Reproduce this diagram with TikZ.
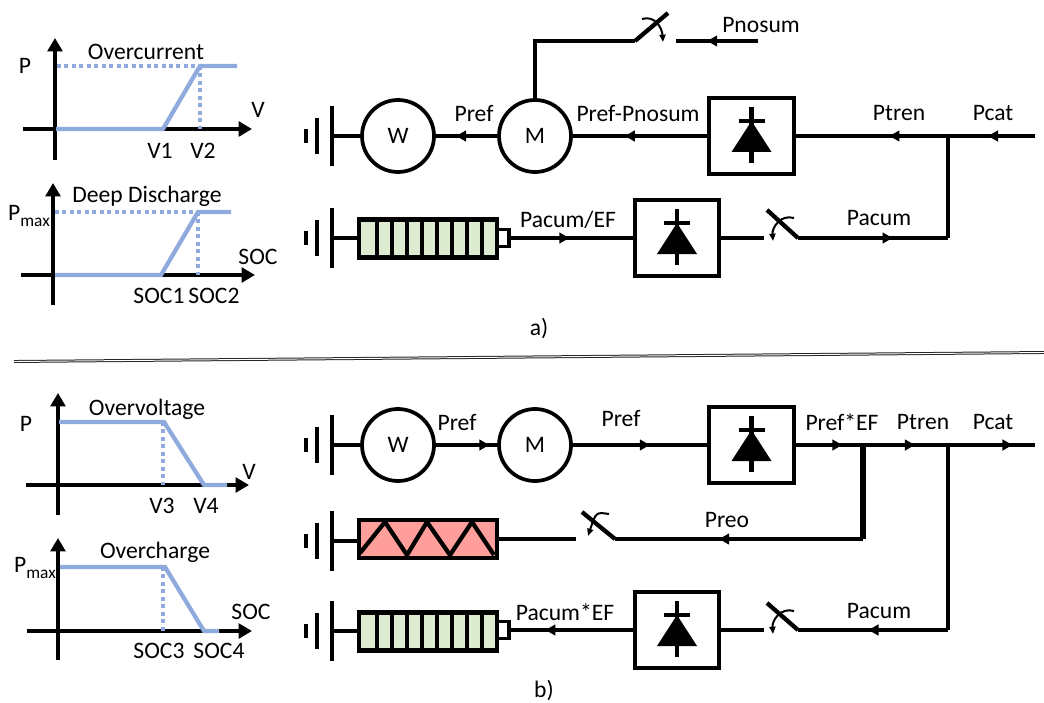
\documentclass[tikz,border=0pt]{standalone}
\usepackage{fontspec}
\setmainfont{Carlito}
\usetikzlibrary{arrows.meta,decorations.markings}

\definecolor{curve}{HTML}{8FAADC}
\definecolor{cellg}{HTML}{DDEBD1}
\definecolor{cellr}{HTML}{FF9E9B}

\tikzset{
  wire/.style={line width=3.2pt},
  flow/.style={postaction={decorate,decoration={markings,mark=at position #1 with {\arrow{Triangle[length=7.5pt,width=8pt]}}}}},
  axis/.style={line width=3pt,-{Triangle[length=10pt,width=11pt]}},
  law/.style={line width=3.2pt,color=curve},
  lim/.style={line width=3pt,color=curve,dash pattern=on 3pt off 2.6pt},
  txt/.style={inner sep=0pt,font=\fontsize{17.7}{20}\selectfont},
  mach/.style={circle,draw,line width=2.8pt,minimum size=54pt,inner sep=0pt,outer sep=0pt,font=\fontsize{17.7}{20}\selectfont},
  conv/.style={rectangle,draw,line width=3.2pt,minimum width=63.5pt,minimum height=57.5pt,outer sep=0pt},
  batt/.style={rectangle,draw,line width=3.2pt,fill=cellg,minimum width=103.5pt,minimum height=28.5pt,outer sep=0pt},
  heat/.style={rectangle,draw,line width=3.2pt,fill=cellr,minimum width=103.5pt,minimum height=28.5pt,outer sep=0pt},
  battcap/.style={rectangle,draw,line width=2.4pt,fill=white,minimum width=9pt,minimum height=12.5pt,outer sep=0pt},
  blade/.style={line width=3.2pt},
  swing/.style={line width=1.5pt,-{Triangle[length=5.5pt,width=4.5pt]}},
  diode/.pic={
    \draw[line width=3.4pt] (0,-29)--(0,27);
    \draw[line width=3.2pt] (-13,-15)--(13,-15);
    \fill (0,-15)--(20,16)--(-20,16)--cycle;
  },
  gnd/.pic={
    \draw[line width=3.6pt] (-26,-7)--(-26,7);
    \draw[line width=3.2pt] (-15,-18)--(-15,18);
    \draw[line width=3.2pt] (0,-30)--(0,30);
  },
  cells/.pic={
    \draw[line width=2.8pt] (-51,-19)--(-51,19) (-36,-19)--(-36,19) (-21,-19)--(-21,19) (-6,-19)--(-6,19)
      (9,-19)--(9,19) (24,-19)--(24,19) (39,-19)--(39,19) (54,-19)--(54,19);
  },
}

\begin{document}
\begin{tikzpicture}[x=0.75pt,y=-0.75pt,line join=miter]
\useasboundingbox (0,0) rectangle (1044,702);

% curves a)
\draw[axis] (23,129)--(252,129);
\draw[axis] (55,160)--(55,38);
\draw[lim] (57,66)--(200,66);
\draw[lim] (200,66)--(200,129);
\draw[law] (56,129)--(163,129)--(200,66)--(237,66);
\node[txt] (overI) at (146,52) {Overcurrent};
\node[txt] (pA) at (25,66) {P};
\node[txt] (vA) at (258,110) {V};
\node[txt] (vOne) at (160,151) {V1};
\node[txt] (vTwo) at (203,151) {V2};

\draw[axis] (21,275)--(255,275);
\draw[axis] (53,305)--(53,183);
\draw[lim] (55,212)--(198,212);
\draw[lim] (198,212)--(198,275);
\draw[law] (55,275)--(161,275)--(198,212)--(231,212);
\node[txt] (deep) at (147,196) {Deep Discharge};
\node[txt] (pmaxA) at (29,216) {P\raisebox{-0.55ex}{\fontsize{13}{15}\selectfont max}};
\node[txt] (socA) at (258,257) {SOC};
\node[txt] (socOne) at (159,296) {SOC1};
\node[txt] (socTwo) at (214,296) {SOC2};

% curves b)
\draw[axis] (26,485)--(249,485);
\draw[axis] (58,515)--(58,393);
\draw[lim] (163,422)--(163,485);
\draw[law] (59,422)--(164,422)--(204,485)--(227,485);
\node[txt] (overV) at (147,409) {Overvoltage};
\node[txt] (pB) at (26,424) {P};
\node[txt] (vB) at (249,472) {V};
\node[txt] (vThree) at (162,506) {V3};
\node[txt] (vFour) at (206,506) {V4};

\draw[axis] (27,631)--(252,631);
\draw[axis] (58,660)--(58,538);
\draw[lim] (163,567)--(163,631);
\draw[law] (60,567)--(165,567)--(204,631)--(219,631);
\node[txt] (overC) at (155,552) {Overcharge};
\node[txt] (pmaxB) at (35,568) {P\raisebox{-0.55ex}{\fontsize{13}{15}\selectfont max}};
\node[txt] (socB) at (251,612) {SOC};
\node[txt] (socThree) at (159,651) {SOC3};
\node[txt] (socFour) at (219,651) {SOC4};

% separator
\draw[line width=0.75pt,color=black!85,double=white,double distance=0.7pt] (14,361.5)--(1044,352.5);
\node[txt] (capA) at (539,329) {a)};
\node[txt] (capB) at (544,690) {b)};

% circuit a)
\coordinate (gA) at (332,136);
\coordinate (gB) at (332,238);
\pic at (gA) {gnd};
\pic at (gB) {gnd};
\node[mach] (wA) at (398,136) {W};
\node[mach] (mA) at (535,136) {M};
\node[conv] (cA) at (751.5,136) {};
\pic at (cA) {diode};
\node[conv] (cB) at (677,238) {};
\pic at (cB) {diode};
\node[batt] (batA) at (428,238.5) {};
\pic at (batA) {cells};
\node[battcap] (capBatA) at (503,238) {};

\coordinate (nsTop) at (535,41);
\coordinate (nsHinge) at (635,41);
\coordinate (nsBlade) at (668,13);
\coordinate (nsFix) at (676,41);
\coordinate (nsEnd) at (758,41);
\coordinate (catA) at (1035,136);
\coordinate (jA) at (948,136);
\coordinate (jB) at (948,238);
\coordinate (acHinge) at (798,238);
\coordinate (acBlade) at (767,210);
\coordinate (acFix) at (764,238);

\draw[wire] (gA)--(wA);
\draw[wire,flow=0.66] (mA)--(wA);
\draw[wire,flow=0.61] (cA)--(mA);
\draw[wire] (mA.north)--(nsTop)--(nsHinge);
\draw[blade] (nsHinge)--(nsBlade);
\draw[swing] (642,19) .. controls (655,15) and (662,28) .. (663,42);
\draw[wire,flow=0.62] (nsEnd)--(nsFix);
\draw[wire,flow=0.54] (catA)--(jA);
\draw[wire,flow=0.38] (jA)--(cA);
\draw[wire,flow=0.63] (acHinge)--(jB);
\draw[wire] (jB)--(jA);
\draw[blade] (acHinge)--(acBlade);
\draw[swing] (794,218) .. controls (780,214) and (772,228) .. (773,241);
\draw[wire] (cB)--(acFix);
\draw[wire,flow=0.48] (capBatA)--(cB);
\draw[wire] (gB)--(batA.west |- gB);

\node[txt] (lbPnosum) at (761,25) {Pnosum};
\node[txt] (lbPrefA) at (474,113) {Pref};
\node[txt] (lbDiff) at (638,113) {Pref-Pnosum};
\node[txt] (lbTrenA) at (899,113) {Ptren};
\node[txt] (lbCatA) at (993,113) {Pcat};
\node[txt] (lbOverEf) at (568,220) {Pacum/EF};
\node[txt] (lbAcA) at (879,218) {Pacum};

% circuit b)
\coordinate (gC) at (332,445);
\coordinate (gD) at (332,541);
\coordinate (gE) at (332,631);
\pic at (gC) {gnd};
\pic at (gD) {gnd};
\pic at (gE) {gnd};
\node[mach] (wB) at (398,445) {W};
\node[mach] (mB) at (535,445) {M};
\node[conv] (cC) at (751.5,445) {};
\pic at (cC) {diode};
\node[conv] (cD) at (677,630) {};
\pic at (cD) {diode};
\node[heat] (heatB) at (428,539) {};
\draw[line width=3.2pt] (360,553)--(385,522)--(407,555)--(427,522)--(450,555)--(472,522)--(494,555);
\node[batt] (batB) at (428,631.5) {};
\pic at (batB) {cells};
\node[battcap] (capBatB) at (503,630) {};

\coordinate (catB) at (1035,445);
\coordinate (jC) at (863,445);
\coordinate (jD) at (948,445);
\coordinate (jE) at (863,539);
\coordinate (jF) at (948,630);
\coordinate (reHinge) at (615,539);
\coordinate (reBlade) at (582,512);
\coordinate (reFix) at (576,539);
\coordinate (dcHinge) at (798,630);
\coordinate (dcBlade) at (767,603);
\coordinate (dcFix) at (764,630);

\draw[wire] (gC)--(wB);
\draw[wire,flow=0.85] (wB)--(mB);
\draw[wire,flow=0.57] (mB)--(cC);
\draw[wire,flow=0.70] (cC)--(jC);
\draw[wire,flow=0.61] (jC)--(jD);
\draw[wire,flow=0.74] (jD)--(catB);
\draw[line width=4pt] (jC)--(jE);
\draw[wire,flow=0.58] (jE)--(reHinge);
\draw[blade] (reHinge)--(reBlade);
\draw[swing] (609,514) .. controls (596,512) .. (588,536);
\draw[wire] (reFix)--(heatB);
\draw[wire] (gD)--(heatB.west |- gD);
\draw[wire] (jD)--(jF);
\draw[wire,flow=0.53] (jF)--(dcHinge);
\draw[blade] (dcHinge)--(dcBlade);
\draw[swing] (794,611) .. controls (780,607) and (772,621) .. (773,634);
\draw[wire] (dcFix)--(cD);
\draw[wire,flow=0.71] (cD)--(capBatB);
\draw[wire] (gE)--(batB.west |- gE);

\node[txt] (lbPrefB) at (457,422) {Pref};
\node[txt] (lbPrefC) at (621,418) {Pref};
\node[txt] (lbTimesA) at (842,422) {Pref*EF};
\node[txt] (lbTrenB) at (923,422) {Ptren};
\node[txt] (lbCatB) at (993,422) {Pcat};
\node[txt] (lbReo) at (727,520) {Preo};
\node[txt] (lbTimesB) at (565,612) {Pacum*EF};
\node[txt] (lbAcB) at (879,611) {Pacum};
\end{tikzpicture}
\end{document}
